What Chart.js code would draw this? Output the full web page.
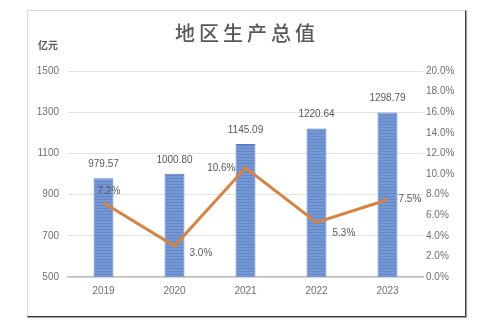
<!DOCTYPE html>
<html>
<head>
<meta charset="utf-8">
<script src="https://cdn.jsdelivr.net/npm/chart.js@4.4.1/dist/chart.umd.min.js"></script>
<style>
    html, body { margin: 0; padding: 0; background: #fff; }
    #card {
        position: absolute;
        left: 27px; top: 10px;
        width: 437px; height: 305px;
        border-left: 1px solid #d9d9d9;
        border-top: 1px solid #d9d9d9;
        border-right: 1px solid #3a3a3a;
        border-bottom: 1px solid #3a3a3a;
        box-shadow: 1px 1px 1px rgba(0,0,0,0.35);
        background: #fff;
    }
    #card canvas { display: block; }
</style>
</head>
<body>
<div id="card"><canvas id="gdpChart" width="437" height="305"></canvas></div>
<script>
const years = ['2019', '2020', '2021', '2022', '2023'];
const gdpValues = [979.57, 1000.80, 1145.09, 1220.64, 1298.79];
const growthRates = [7.2, 3.0, 10.6, 5.3, 7.5];
const leftTicks = [500, 700, 900, 1100, 1300, 1500];

const textColor = '#595959';
const tickColor = '#6f6f6f';
const labelFont = '10px "Liberation Sans", Arial, sans-serif';

// striped fill like the original bars
function barPattern() {
    const c = document.createElement('canvas');
    c.width = 4; c.height = 3;
    const g = c.getContext('2d');
    g.fillStyle = '#7598d5';
    g.fillRect(0, 0, 4, 3);
    g.fillStyle = '#6388c9';
    g.fillRect(0, 2, 4, 1);
    return g.createPattern(c, 'repeat');
}

// title, unit label and value labels
const labelsPlugin = {
    id: 'labels',
    afterDatasetsDraw(chart) {
        const ctx = chart.ctx;
        ctx.save();
        ctx.fillStyle = textColor;

        // title with letter spacing
        ctx.font = '500 20px "Noto Sans CJK SC", sans-serif';
        ctx.textBaseline = 'middle';
        ctx.textAlign = 'center';
        const title = '地区生产总值';
        const pitch = 24;
        const cx = 217;
        [...title].forEach((ch, i) => {
            ctx.fillText(ch, cx + (i - (title.length - 1) / 2) * pitch, 22);
        });

        ctx.font = 'bold 10px "Noto Sans CJK SC", sans-serif';
        ctx.textAlign = 'left';
        ctx.fillText('亿元', 10, 34);

        ctx.font = labelFont;
        ctx.textAlign = 'center';
        chart.getDatasetMeta(0).data.forEach((bar, i) => {
            ctx.fillText(gdpValues[i].toFixed(2), bar.x, bar.y - 14);
        });

        const offsets = chart.options.plugins.labels.lineOffsets;
        chart.getDatasetMeta(1).data.forEach((pt, i) => {
            const [dx, dy, align] = offsets[i];
            ctx.textAlign = align;
            ctx.fillText(growthRates[i].toFixed(1) + '%', pt.x + dx, pt.y + dy);
        });
        ctx.restore();
    }
};

const ctx = document.getElementById('gdpChart').getContext('2d');
new Chart(ctx, {
    data: {
        labels: years,
        datasets: [{
            type: 'bar',
            data: gdpValues,
            yAxisID: 'y',
            backgroundColor: barPattern(),
            borderColor: '#5479bd',
            borderWidth: 1,
            barPercentage: 0.28,
            categoryPercentage: 1.0,
            order: 2
        }, {
            type: 'line',
            data: growthRates,
            yAxisID: 'y1',
            borderColor: '#d9823f',
            borderWidth: 3,
            pointRadius: 0,
            tension: 0,
            order: 1
        }]
    },
    options: {
        responsive: false,
        animation: false,
        layout: { padding: { top: 60, left: 0, right: 0, bottom: 0 } },
        plugins: {
            legend: { display: false },
            tooltip: { enabled: false },
            labels: {
                lineOffsets: [
                    [-6, -12, 'left'],
                    [15, 7, 'left'],
                    [-10, 0, 'right'],
                    [16, 11, 'left'],
                    [11, -1, 'left']
                ]
            }
        },
        scales: {
            x: {
                grid: { display: false },
                border: { color: '#bfbfbf', width: 1.5 },
                ticks: { color: tickColor, font: { family: '"Liberation Sans", Arial', size: 10 }, padding: 0 },
                afterFit(scale) { scale.height = 39; }
            },
            y: {
                position: 'left',
                min: 500,
                max: 1500,
                afterBuildTicks(scale) { scale.ticks = leftTicks.map(v => ({ value: v })); },
                grid: { color: '#e3e3e3', drawTicks: false },
                border: { display: false },
                ticks: {
                    color: tickColor,
                    font: { family: '"Liberation Sans", Arial', size: 10 },
                    padding: 9,
                    callback: v => String(v)
                },
                afterFit(scale) { scale.width = 40; }
            },
            y1: {
                position: 'right',
                min: 0,
                max: 20,
                grid: { display: false, drawTicks: false },
                border: { display: false },
                ticks: {
                    stepSize: 2,
                    color: tickColor,
                    font: { family: '"Liberation Sans", Arial', size: 10 },
                    padding: 3,
                    callback: v => v.toFixed(1) + '%'
                },
                afterFit(scale) { scale.width = 42; }
            }
        }
    },
    plugins: [labelsPlugin]
});
</script>
</body>
</html>
